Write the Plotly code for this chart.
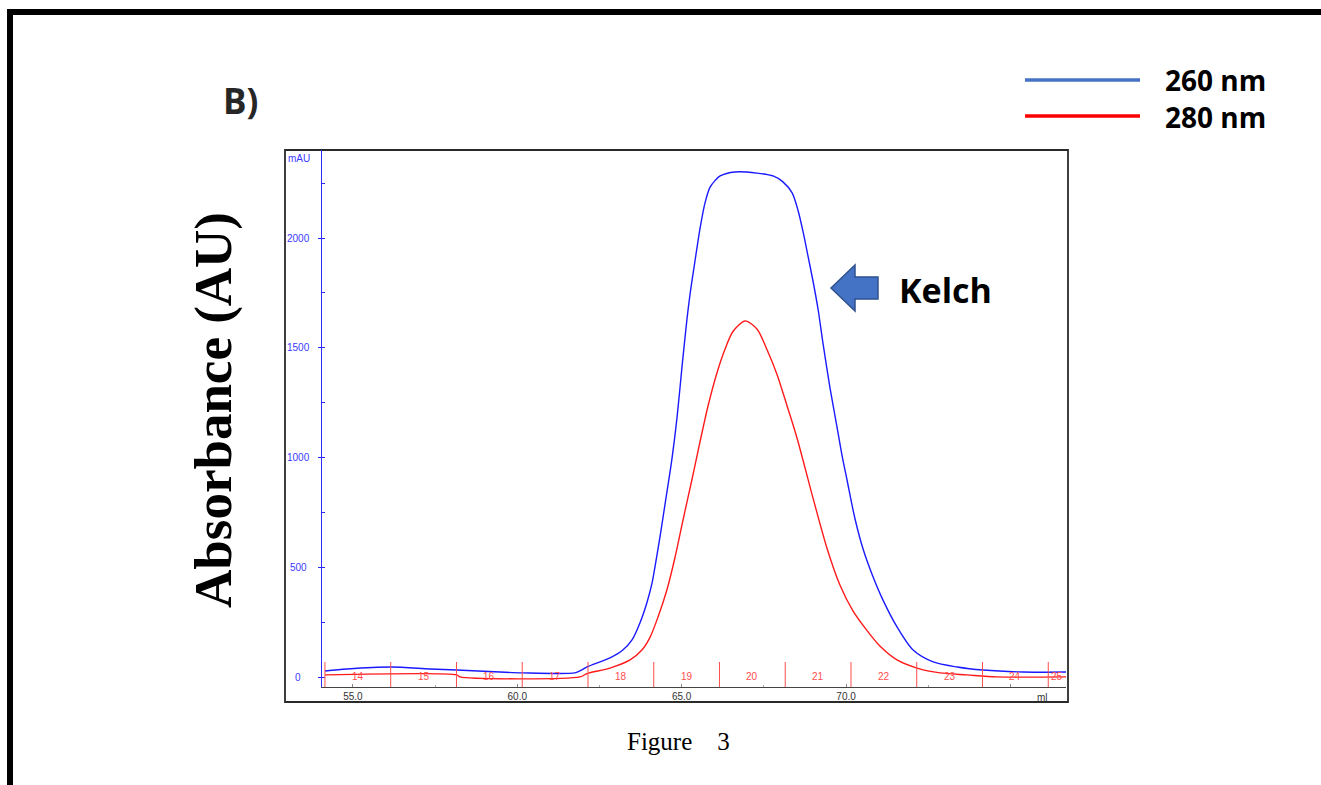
import plotly.graph_objects as go

# ---------------- data ----------------
vol_260 = [54.15, 54.82, 56.16, 57.34, 58.16, 59.47, 60.17, 61.75, 61.90, 62.12, 62.82, 63.21,
           63.49, 63.73, 63.94, 64.10, 64.25, 64.36, 64.52, 64.70, 64.86, 65.01, 65.16, 65.26,
           65.40, 65.56, 65.71, 65.86, 66.02, 66.17, 66.62, 67.29, 67.78, 68.08, 68.36, 68.54,
           68.69, 68.84, 69.00, 69.15, 69.30, 69.51, 69.72, 69.88, 70.03, 70.27, 70.52, 70.82,
           71.12, 71.55, 72.04, 72.65, 73.38, 74.17, 75.38, 76.69]
abs_260 = [32, 41, 50, 41, 36, 27, 23, 23, 32, 50, 91, 127,
           173, 250, 341, 432, 560, 660, 815, 991, 1186, 1414, 1630, 1750,
           1890, 2045, 2160, 2230, 2262, 2282, 2300, 2295, 2282, 2255, 2205, 2125,
           2030, 1920, 1800, 1675, 1520, 1320, 1145, 1010, 900, 725, 585, 460,
           355, 232, 127, 73, 50, 36, 27, 27]

vol_280 = [54.15, 58.16, 58.26, 61.91, 62.12, 62.82, 63.43, 63.79, 64.04, 64.28, 64.55, 64.80,
           65.04, 65.31, 65.56, 65.80, 66.07, 66.32, 66.56, 66.93, 67.29, 67.60, 67.90, 68.20,
           68.51, 69.00, 69.42, 69.82, 70.21, 70.64, 71.03, 71.55, 72.16, 72.86, 73.68, 74.59,
           76.72]
abs_280 = [14, 14, 5, 5, 20, 45, 82, 127, 186, 277, 400, 550,
           718, 900, 1075, 1235, 1385, 1495, 1575, 1623, 1586, 1491, 1380, 1240,
           1090, 815, 590, 420, 305, 215, 145, 82, 45, 23, 14, 5,
           5]

fraction_bounds = [54.15, 56.15, 58.15, 60.15, 62.15, 64.15, 66.15, 68.15, 70.15, 72.15, 74.15, 76.15]
fraction_labels = ["14", "15", "16", "17", "18", "19", "20", "21", "22", "23", "24", "25"]
fraction_label_x = [55.15, 57.15, 59.15, 61.15, 63.15, 65.15, 67.15, 69.15, 71.15, 73.15, 75.15, 76.42]

x_tickvals = [55, 60, 65, 70, 75]
x_ticktext = ["55.0", "60.0", "65.0", "70.0", ""]
y_label_vals = [0, 500, 1000, 1500, 2000]
y_label_text = ["0", "500", "1000", "1500", "2000"]

legend_names = ["260 nm", "280 nm"]
legend_colors = ["#4472C4", "#FF0000"]

# ---------------- layout geometry ----------------
W, H = 1321, 785
L, R, T, B = 322, 255, 150, 98
PW, PH = W - L - R, H - T - B


def px(xp):
    return (xp - L) / PW


def py(yp):
    return (H - B - yp) / PH


fig = go.Figure()
fig.add_trace(go.Scatter(x=vol_260, y=abs_260, mode="lines", name="260 nm",
                         line=dict(color="#1a1aff", width=1.4, shape="spline", smoothing=0.8),
                         showlegend=False, hoverinfo="skip"))
fig.add_trace(go.Scatter(x=vol_280, y=abs_280, mode="lines", name="280 nm",
                         line=dict(color="#ff1a1a", width=1.4, shape="spline", smoothing=0.8),
                         showlegend=False, hoverinfo="skip"))

shapes = []
# fraction boundaries
for b in fraction_bounds:
    shapes.append(dict(type="line", xref="x", yref="paper", x0=b, x1=b, y0=0, y1=py(662),
                       line=dict(color="#ff4d4d", width=1)))
# chromatogram outer box
shapes.append(dict(type="rect", xref="paper", yref="paper", x0=px(285), x1=px(1068),
                   y0=py(702), y1=py(150), line=dict(color="#2a2a2a", width=1.8), layer="below"))
# page frame
shapes.append(dict(type="line", xref="paper", yref="paper", x0=px(10), x1=px(10),
                   y0=py(9), y1=py(800), line=dict(color="black", width=6)))
shapes.append(dict(type="line", xref="paper", yref="paper", x0=px(7), x1=px(1330),
                   y0=py(12), y1=py(12), line=dict(color="black", width=6)))
# legend lines
for i, c in enumerate(legend_colors):
    yy = [80, 116][i]
    shapes.append(dict(type="line", xref="paper", yref="paper", x0=px(1025), x1=px(1140),
                       y0=py(yy), y1=py(yy), line=dict(color=c, width=3.5)))
# Kelch arrow (left-pointing block arrow)
pts = [(831, 288), (855, 265), (855, 277), (878, 277), (878, 299), (855, 299), (855, 311)]
path = "M " + " L ".join(f"{px(a):.5f},{py(b):.5f}" for a, b in pts) + " Z"
shapes.append(dict(type="path", xref="paper", yref="paper", path=path,
                   fillcolor="#4472C4", line=dict(color="#2F528F", width=1.5)))

annotations = []
for v, t in zip(y_label_vals, y_label_text):
    annotations.append(dict(x=px(298), xref="paper", y=v, yref="y", text=t, showarrow=False,
                            xanchor="center", yanchor="middle",
                            font=dict(family="Liberation Sans", size=10, color="#3a3aff")))
annotations.append(dict(x=px(299), xref="paper", y=py(158), yref="paper", text="mAU",
                        showarrow=False, xanchor="center", yanchor="middle",
                        font=dict(family="Liberation Sans", size=10, color="#3a3aff")))
annotations.append(dict(x=px(1042), xref="paper", y=py(697), yref="paper", text="ml",
                        showarrow=False, xanchor="center", yanchor="middle",
                        font=dict(family="Liberation Sans", size=10, color="#333333")))
for xv, t in zip(fraction_label_x, fraction_labels):
    annotations.append(dict(x=xv, xref="x", y=9, yref="y", text=t, showarrow=False,
                            xanchor="center", yanchor="middle",
                            font=dict(family="Liberation Sans", size=10, color="#ff4d4d")))
annotations.append(dict(x=px(240), xref="paper", y=py(100), yref="paper", text="<b>B)</b>",
                        showarrow=False, xanchor="center", yanchor="middle",
                        font=dict(family="Open Sans", size=35, color="#262626")))
for i, n in enumerate(legend_names):
    yy = [80, 117][i]
    annotations.append(dict(x=px(1163), xref="paper", y=py(yy), yref="paper", text=f"<b>{n}</b>",
                            showarrow=False, xanchor="left", yanchor="middle",
                            font=dict(family="Open Sans", size=28, color="black")))
annotations.append(dict(x=px(897), xref="paper", y=py(290), yref="paper", text="<b>Kelch</b>",
                        showarrow=False, xanchor="left", yanchor="middle",
                        font=dict(family="Open Sans", size=34, color="black")))
annotations.append(dict(x=px(213), xref="paper", y=py(410), yref="paper",
                        text="<b>Absorbance (AU)</b>", textangle=-90, showarrow=False,
                        xanchor="center", yanchor="middle",
                        font=dict(family="Liberation Serif", size=53, color="black")))
annotations.append(dict(x=px(678), xref="paper", y=py(741), yref="paper",
                        text="Figure\u00a0\u00a0\u00a0\u00a03", showarrow=False,
                        xanchor="center", yanchor="middle",
                        font=dict(family="Liberation Serif", size=25, color="black")))

fig.update_layout(
    width=W, height=H,
    margin=dict(l=L, r=R, t=T, b=B, pad=0),
    paper_bgcolor="white", plot_bgcolor="white",
    showlegend=False,
    shapes=shapes, annotations=annotations,
    xaxis=dict(range=[54.06, 76.69], showgrid=False, zeroline=False,
               showline=True, linecolor="#444444", linewidth=1.2,
               tickvals=x_tickvals, ticktext=x_ticktext, ticks="inside", ticklen=3,
               tickcolor="#888888",
               minor=dict(dtick=2.5, tick0=55, ticks="inside", ticklen=2, tickcolor="#aaaaaa"),
               tickfont=dict(family="Liberation Sans", size=10, color="#333333"),
               fixedrange=True),
    yaxis=dict(range=[-41, 2400], showgrid=False, zeroline=False,
               showline=True, linecolor="#2a2aff", linewidth=1.3,
               tickmode="linear", tick0=0, dtick=500, ticks="outside", ticklen=3,
               tickcolor="#2a2aff", showticklabels=False,
               minor=dict(dtick=250, tick0=0, ticks="inside", ticklen=3, tickcolor="#2a2aff"),
               fixedrange=True),
)

fig.write_html("out.html")
